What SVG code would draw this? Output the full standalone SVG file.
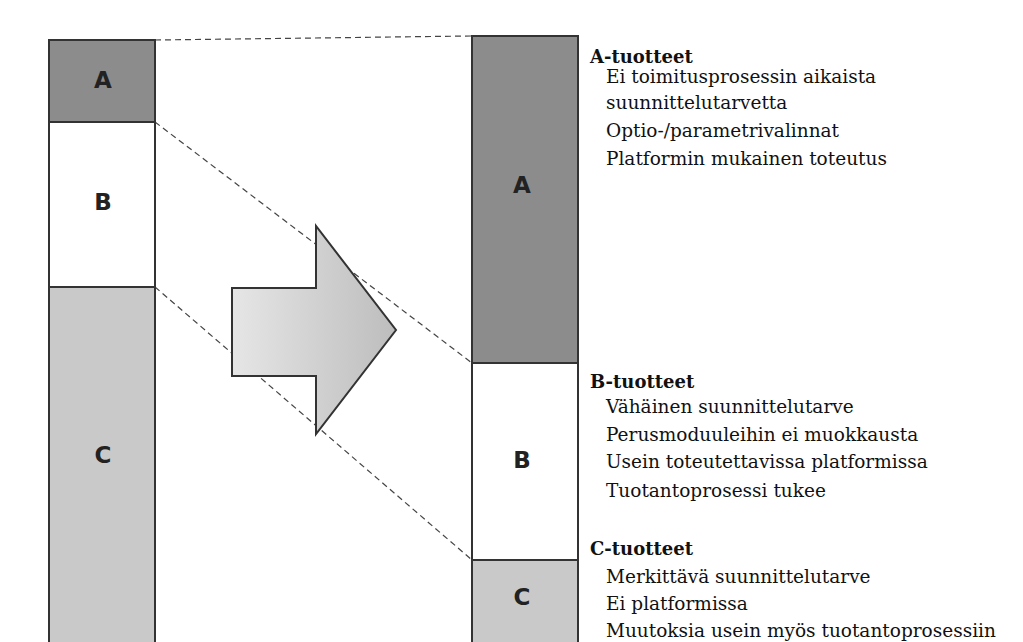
<svg xmlns="http://www.w3.org/2000/svg" width="1023" height="642" viewBox="0 0 1023 642">
<defs>
<linearGradient id="ag" x1="0" y1="0" x2="1" y2="0"><stop offset="0" stop-color="#e6e6e6"/><stop offset="1" stop-color="#bdbdbd"/></linearGradient>
<style>
.bar{stroke:#333;stroke-width:2}
.dk{fill:#8c8c8c}.lt{fill:#c9c9c9}.wh{fill:#fff}
.lab{font-family:"DejaVu Sans",sans-serif;font-weight:bold;font-size:23px;fill:#222;text-anchor:middle}
.t{font-family:"DejaVu Serif",serif;font-size:18.5px;fill:#111}
.h{font-weight:bold;font-size:18px}
.dash{stroke:#444;stroke-width:1.2;stroke-dasharray:6,4;fill:none}
</style>
</defs>
<rect width="1023" height="642" fill="#fff"/>
<g id="connectors">
<line class="dash" x1="155" y1="40" x2="472" y2="36"/>
<line class="dash" x1="155" y1="122" x2="472" y2="363"/>
<line class="dash" x1="155" y1="287" x2="472" y2="560"/>
</g>
<g id="left-bar">
<rect class="bar dk" x="49" y="40" width="106" height="82"/>
<rect class="bar wh" x="49" y="122" width="106" height="165"/>
<rect class="bar lt" x="49" y="287" width="106" height="360"/>
<text class="lab" x="103" y="88">A</text>
<text class="lab" x="103" y="210">B</text>
<text class="lab" x="103" y="463">C</text>
</g>
<g id="arrow">
<polygon points="232,288 316,288 316,226 396,330 316,434 316,376 232,376" fill="url(#ag)" stroke="#333" stroke-width="2"/>
</g>
<g id="right-bar">
<rect class="bar dk" x="472" y="36" width="106" height="327"/>
<rect class="bar wh" x="472" y="363" width="106" height="197"/>
<rect class="bar lt" x="472" y="560" width="106" height="87"/>
<text class="lab" x="522" y="193">A</text>
<text class="lab" x="522" y="468">B</text>
<text class="lab" x="522" y="605">C</text>
</g>
<g id="text-a">
<text class="t h" x="590" y="63">A-tuotteet</text>
<text class="t" x="606" y="83">Ei toimitusprosessin aikaista</text>
<text class="t" x="606" y="109">suunnittelutarvetta</text>
<text class="t" x="606" y="137">Optio-/parametrivalinnat</text>
<text class="t" x="606" y="165">Platformin mukainen toteutus</text>
</g>
<g id="text-b">
<text class="t h" x="590" y="388">B-tuotteet</text>
<text class="t" x="606" y="413">Vähäinen suunnittelutarve</text>
<text class="t" x="606" y="441">Perusmoduuleihin ei muokkausta</text>
<text class="t" x="606" y="468">Usein toteutettavissa platformissa</text>
<text class="t" x="606" y="497">Tuotantoprosessi tukee</text>
</g>
<g id="text-c">
<text class="t h" x="590" y="555">C-tuotteet</text>
<text class="t" x="606" y="583">Merkittävä suunnittelutarve</text>
<text class="t" x="606" y="610">Ei platformissa</text>
<text class="t" x="606" y="637">Muutoksia usein myös tuotantoprosessiin</text>
</g>
</svg>
